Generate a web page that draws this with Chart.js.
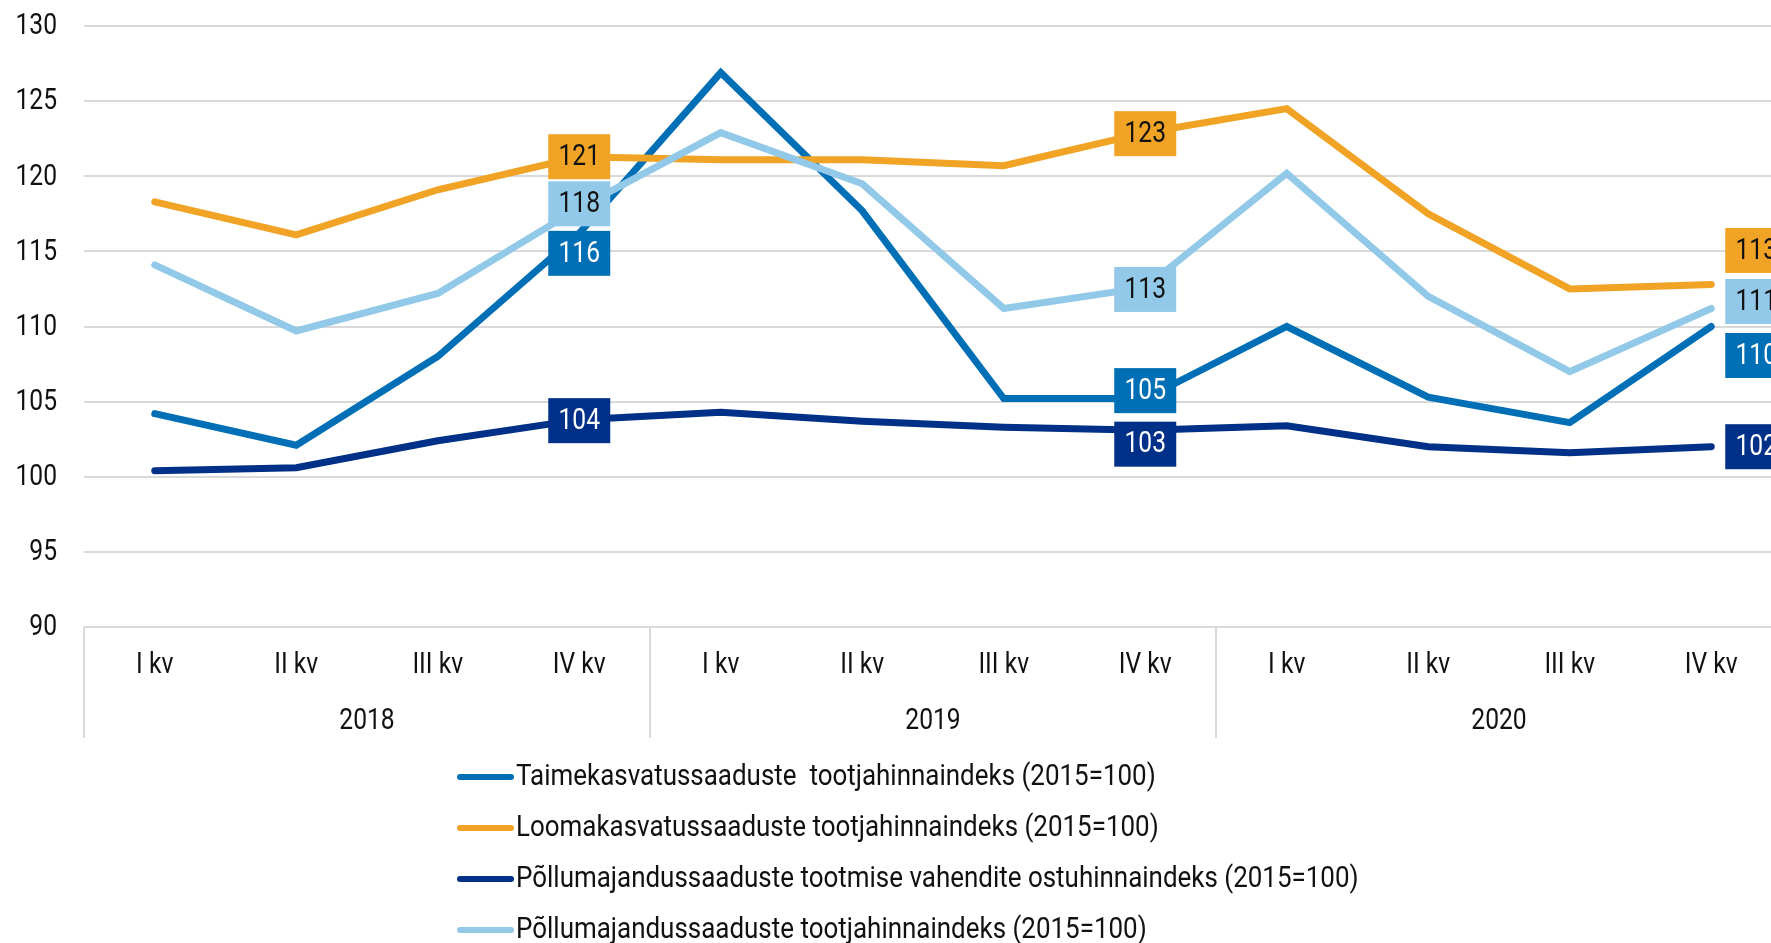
<!DOCTYPE html>
<html>
<head>
<meta charset="utf-8">
<script src="https://cdn.jsdelivr.net/npm/chart.js@4.4.0/dist/chart.umd.min.js"></script>
<style>
  html, body { margin: 0; padding: 0; background: #fff; overflow: hidden; }
  #wrap { position: relative; width: 1782px; height: 943px; }
</style>
</head>
<body>
<div id="wrap"><canvas id="myChart"></canvas></div>
<script>
var quarters = ['I kv', 'II kv', 'III kv', 'IV kv', 'I kv', 'II kv', 'III kv', 'IV kv', 'I kv', 'II kv', 'III kv', 'IV kv'];
var years = ['2018', '2019', '2020'];
var seriesNames = [
    'Taimekasvatussaaduste  tootjahinnaindeks (2015=100)',
    'Loomakasvatussaaduste tootjahinnaindeks (2015=100)',
    'Põllumajandussaaduste tootmise vahendite ostuhinnaindeks (2015=100)',
    'Põllumajandussaaduste tootjahinnaindeks (2015=100)'
];
var taime = [104.2, 102.1, 108.0, 116.2, 126.9, 117.7, 105.2, 105.2, 110.0, 105.3, 103.6, 110.0];
var looma = [118.3, 116.1, 119.1, 121.3, 121.1, 121.1, 120.7, 122.9, 124.5, 117.5, 112.5, 112.8];
var vahendid = [100.4, 100.6, 102.4, 103.8, 104.3, 103.7, 103.3, 103.1, 103.4, 102.0, 101.6, 102.0];
var pollu = [114.1, 109.7, 112.2, 117.9, 122.9, 119.5, 111.2, 112.6, 120.2, 112.0, 107.0, 111.2];
var yMin = 90, yMax = 130, yStep = 5;
var labelIndexes = [3, 7, 11];

var FONT = "Roboto, 'Noto Sans', sans-serif";
var SX = 0.85; // the original type is condensed, squeeze Roboto horizontally
var TXT = '#111';
var colors = ['#006fb5', '#f0a324', '#003087', '#93c9e8'];
var labelTextColors = ['#fff', '#111', '#fff', '#111'];
// vertical nudges of the value boxes (px), per series, per labelIndexes entry
var labelShift = [[20, -8, 29], [0, 1, -34], [1, 14, 0], [-4, 2, -7]];

function squeezedText(ctx, text, x, y, align, size, color, sx) {
    ctx.save();
    ctx.font = size + 'px ' + FONT;
    ctx.textAlign = align;
    ctx.textBaseline = 'middle';
    ctx.fillStyle = color;
    ctx.translate(x, y);
    ctx.scale(sx || SX, 1);
    ctx.fillText(text, 0, 0);
    ctx.restore();
}

var valueLabels = {
    id: 'valueLabels',
    afterDatasetsDraw: function(chart) {
        var ctx = chart.ctx;
        chart.data.datasets.forEach(function(ds, di) {
            var meta = chart.getDatasetMeta(di);
            labelIndexes.forEach(function(idx, k) {
                var pt = meta.data[idx];
                var cx = idx === quarters.length - 1 ? pt.x + 14 + 31 : pt.x;
                var cy = pt.y + labelShift[di][k];
                ctx.fillStyle = colors[di];
                ctx.fillRect(cx - 31, cy - 22.5, 62, 45);
                squeezedText(ctx, String(Math.round(ds.data[idx])), cx, cy + 1, 'center', 29, labelTextColors[di]);
            });
        });
    }
};

var decor = {
    id: 'decor',
    afterDraw: function(chart) {
        var ctx = chart.ctx, x = chart.scales.x, y = chart.scales.y, area = chart.chartArea;
        var half = (x.getPixelForValue(1) - x.getPixelForValue(0)) / 2;

        // y tick labels
        y.ticks.forEach(function(t) {
            squeezedText(ctx, String(t.value), area.left - 27, y.getPixelForValue(t.value) + 1, 'right', 29, TXT);
        });
        // quarter labels
        quarters.forEach(function(q, i) {
            squeezedText(ctx, q, x.getPixelForValue(i), area.bottom + 39, 'center', 29, TXT);
        });

        // year groups: separators + labels
        ctx.save();
        ctx.strokeStyle = '#d9d9d9';
        ctx.lineWidth = 2;
        years.forEach(function(yr, g) {
            var left = x.getPixelForValue(g * 4) - half;
            var right = x.getPixelForValue(g * 4 + 3) + half;
            ctx.beginPath();
            ctx.moveTo(left, area.bottom);
            ctx.lineTo(left, area.bottom + 111);
            ctx.stroke();
            squeezedText(ctx, yr, (left + right) / 2, area.bottom + 95, 'center', 29, TXT);
        });

        // legend, one item per row
        ctx.lineCap = 'round';
        ctx.lineWidth = 6;
        chart.data.datasets.forEach(function(ds, i) {
            var ly = area.bottom + 150 + i * 51;
            ctx.strokeStyle = colors[i];
            ctx.beginPath();
            ctx.moveTo(460, ly);
            ctx.lineTo(511, ly);
            ctx.stroke();
            squeezedText(ctx, ds.label, 516, ly, 'left', 30, TXT, 0.865);
        });
        ctx.restore();
    }
};

var series = [taime, looma, vahendid, pollu];
var datasets = series.map(function(vals, i) {
    return {
        label: seriesNames[i],
        data: vals,
        borderColor: colors[i],
        backgroundColor: colors[i],
        borderWidth: 7,
        borderCapStyle: 'round',
        pointRadius: 0,
        pointHoverRadius: 0,
        tension: 0,
        order: 4 - i
    };
});

var ctx = document.getElementById('myChart').getContext('2d');
var chart = new Chart(ctx, {
    type: 'line',
    data: {
        labels: quarters,
        datasets: datasets
    },
    plugins: [valueLabels, decor],
    options: {
        responsive: true,
        maintainAspectRatio: false,
        animation: false,
        layout: { padding: { top: 26, bottom: 205, left: 0, right: 0 } },
        plugins: {
            legend: { display: false },
            tooltip: { enabled: false }
        },
        scales: {
            x: {
                offset: true,
                grid: { display: false, drawTicks: false, offset: true },
                border: { display: false },
                ticks: { display: false, autoSkip: false },
                afterFit: function(s) { s.height = 111; }
            },
            y: {
                min: yMin,
                max: yMax,
                grid: { color: '#d9d9d9', lineWidth: 2, drawTicks: false },
                border: { display: false },
                ticks: { display: false, stepSize: yStep },
                afterFit: function(s) { s.width = 84; }
            }
        }
    }
});
</script>
</body>
</html>
